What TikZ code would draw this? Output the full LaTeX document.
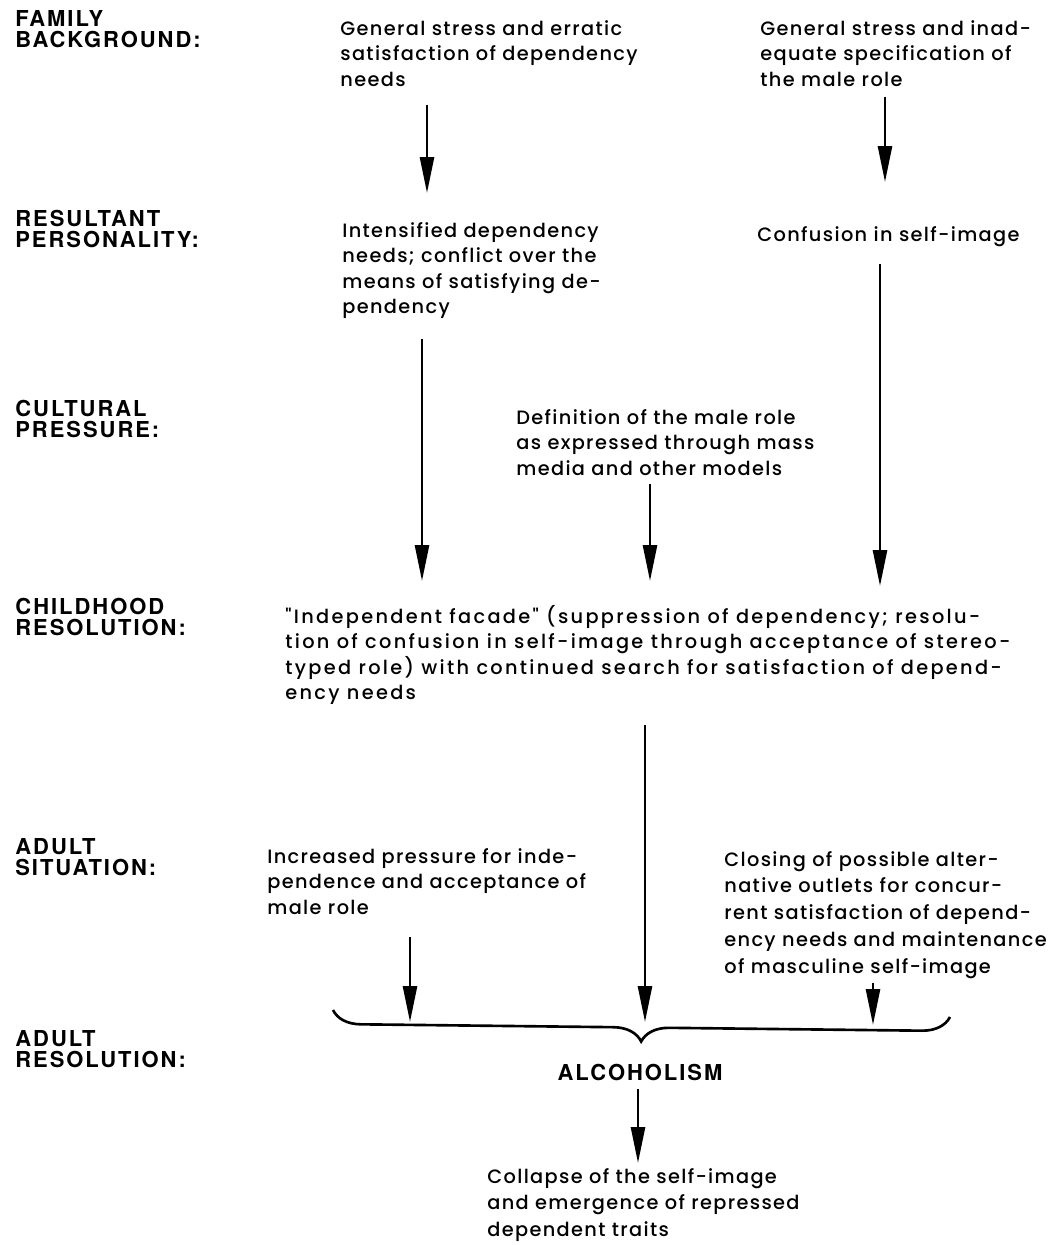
\documentclass[tikz,border=0pt]{standalone}
\usepackage{fontspec}
\setmainfont{Poppins}[UprightFont={* Medium}, LetterSpace=7]
\newfontfamily\widefont{Poppins}[UprightFont={* Medium}, LetterSpace=12]
\newfontfamily\labelfont{TeX Gyre Heros}[LetterSpace=9]
\usetikzlibrary{arrows.meta,positioning,calc,decorations.pathreplacing}

\tikzset{
  stage/.style={anchor=north west, inner sep=0pt, align=left,
    font=\labelfont\bfseries\fontsize{12.5}{12}\selectfont},
  txt/.style={anchor=north west, inner sep=0pt, align=left,
    font=\fontsize{11}{14.5}\selectfont},
  loose/.style={font=\fontsize{11}{15.2}\selectfont},
  wide/.style={font=\widefont\fontsize{11}{14.5}\selectfont},
  arr/.style={line width=1.5pt, -{Triangle[length=0.72cm,width=0.28cm]}},
}

\begin{document}
\begin{tikzpicture}[x=0.02cm,y=-0.02cm]
  \useasboundingbox (0,0) rectangle (1055,1245);

  % Stage labels
  \node[stage] (lfam) at (15,10) {FAMILY\\BACKGROUND:};
  \node[stage] (lres) at (15,210) {RESULTANT\\PERSONALITY:};
  \node[stage] (lcul) at (15,400) {CULTURAL\\PRESSURE:};
  \node[stage] (lchi) at (15,598) {CHILDHOOD\\RESOLUTION:};
  \node[stage] (lads) at (15,838) {ADULT\\SITUATION:};
  \node[stage] (ladr) at (15,1030) {ADULT\\RESOLUTION:};

  % Family background
  \node[txt] (fam1) at (340,20) {General stress and erratic\\satisfaction of dependency\\needs};
  \node[txt] (fam2) at (760,20) {General stress and inad-\\equate specification of\\the male role};

  % Resultant personality
  \node[txt] (res1) at (342,222) {Intensified dependency\\needs; conflict over the\\means of satisfying de-\\pendency};
  \node[txt] (res2) at (757,226) {Confusion in self-image};

  % Cultural pressure
  \node[txt] (cul) at (516,409) {Definition of the male role\\as expressed through mass\\media and other models};

  % Childhood resolution
  \node[txt, wide] (chi) at (285,605) {"Independent facade" (suppression of dependency; resolu-\\tion of confusion in self-image through acceptance of stereo-\\typed role) with continued search for satisfaction of depend-\\ency needs};

  % Adult situation
  \node[txt] (ads1) at (267,848) {Increased pressure for inde-\\pendence and acceptance of\\male role};
  \node[txt, loose] (ads2) at (724,851) {Closing of possible alter-\\native outlets for concur-\\rent satisfaction of depend-\\ency needs and maintenance\\of masculine self-image};

  % Adult resolution
  \coordinate (bl) at (333,1010);
  \coordinate (br) at (950,1017);
  \coordinate (bline) at (642,1022);
  \draw[line width=1.5pt, decorate, decoration={brace, mirror, amplitude=0.56cm}] (bl) -- (br);
  \node[font=\labelfont\bfseries\fontsize{12.5}{12}\selectfont, inner sep=0pt] (alc) at (640,1072) {ALCOHOLISM};
  \node[txt, loose] (col) at (487,1168) {Collapse of the self-image\\and emergence of repressed\\dependent traits};

  % Arrows
  \coordinate (k1) at (427,0);
  \coordinate (k2) at (885,0);
  \coordinate (k3) at (422,0);
  \coordinate (k4) at (880,0);
  \coordinate (k5) at (650,0);
  \coordinate (k6) at (645,0);
  \coordinate (k7) at (410,0);
  \coordinate (k8) at (873,0);
  \coordinate (k9) at (638,0);
  \draw[arr, shorten <=0.36cm, shorten >=0.58cm] (k1 |- fam1.south) -- (k1 |- res1.north);
  \draw[arr, shorten <=0.20cm, shorten >=0.88cm] (k2 |- fam2.south) -- (k2 |- res2.north);
  \draw[arr, shorten <=0.40cm, shorten >=0.48cm] (k3 |- res1.south) -- (k3 |- chi.north);
  \draw[arr, shorten <=0.34cm, shorten >=0.38cm] (k4 |- res2.south) -- (k4 |- chi.north);
  \draw[arr, shorten <=0.16cm, shorten >=0.48cm] (k5 |- cul.south) -- (k5 |- chi.north);
  \draw[arr, shorten <=0.40cm] (k6 |- chi.south) -- (k6 |- bline);
  \draw[arr, shorten <=0.44cm] (k7 |- ads1.south) -- (k7 |- bline);
  \draw[arr, shorten <=0.08cm, shorten >=-0.06cm] (k8 |- ads2.south) -- (k8 |- bline);
  \draw[arr, shorten <=0.16cm, shorten >=0.10cm] (k9 |- alc.south) -- (k9 |- col.north);
\end{tikzpicture}
\end{document}
